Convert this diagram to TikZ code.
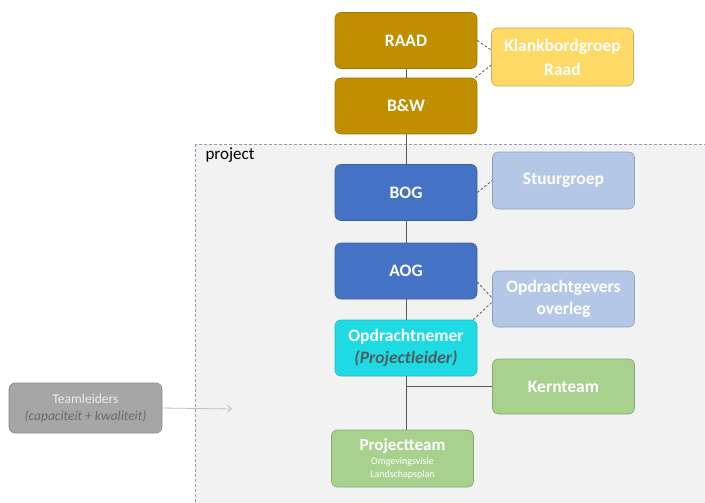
\documentclass[tikz,border=0pt]{standalone}
\usepackage{fontspec}
\setmainfont{Carlito}
\usetikzlibrary{arrows.meta}
\definecolor{raadgold}{HTML}{BF8F00}
\definecolor{klankgeel}{HTML}{FFD966}
\definecolor{bogblauw}{HTML}{4472C4}
\definecolor{lichtblauw}{HTML}{B4C7E7}
\definecolor{nemercyaan}{HTML}{1FDAE3}
\definecolor{teamgroen}{HTML}{A9D18E}
\definecolor{leidergrijs}{HTML}{A6A6A6}
\definecolor{trunkgrijs}{HTML}{595959}
\definecolor{kadergrijs}{HTML}{F2F2F2}
\definecolor{kaderrand}{HTML}{8E9CB8}
\newcommand{\boxfont}{\fontsize{17.5}{22}\selectfont\bfseries}
\begin{document}
\begin{tikzpicture}[x=1pt,y=-1pt,
  box/.style={rounded corners=6pt,minimum width=142pt,minimum height=56pt,inner sep=0pt,
    align=center,text=white,line width=0.6pt,font=\boxfont},
  trunk/.style={draw=trunkgrijs,line width=0.9pt},
  side/.style={draw=trunkgrijs,dash pattern=on 2.5pt off 2pt,line width=0.8pt}]
\path[use as bounding box,fill=white] (0,0) rectangle (705,503);
% project area
\begin{scope}
\clip (0,0) rectangle (705,503);
\draw[kaderrand,fill=kadergrijs,dash pattern=on 3pt off 2pt,line width=0.8pt] (195,144) rectangle (720,520);
\end{scope}
\node[anchor=west,font=\fontsize{17}{19}\selectfont] (projlabel) at (202,155) {project};
% boxes
\node[box,fill=raadgold,draw=raadgold!85!black] (raad) at (406,40.5) {RAAD};
\node[box,fill=raadgold,draw=raadgold!85!black] (bw) at (406,106) {B\&W};
\node[box,fill=klankgeel,draw=klankgeel!80!black,minimum height=58pt,font=\fontsize{17.5}{24}\selectfont\bfseries] (kbg) at (562.5,57) {Klankbordgroep\\Raad};
\node[box,fill=bogblauw,draw=bogblauw!85!black] (bog) at (406,192.5) {BOG};
\node[box,fill=lichtblauw,draw=lichtblauw!80!black,minimum height=57pt] (stuur) at (563.5,180.5) {Stuurgroep};
\node[box,fill=bogblauw,draw=bogblauw!85!black] (aog) at (406,271) {AOG};
\node[box,fill=lichtblauw,draw=lichtblauw!80!black] (ogo) at (563.5,299) {Opdrachtgevers\\overleg};
\node[box,fill=nemercyaan,draw=nemercyaan!85!black] (nemer) at (406,348)
  {Opdrachtnemer\\\color{trunkgrijs!90!teal}\itshape (Projectleider)};
\node[box,fill=teamgroen,draw=teamgroen!80!black,minimum height=55pt] (kern) at (563.5,386.5) {Kernteam};
\node[box,fill=teamgroen,draw=teamgroen!80!black,minimum height=57pt,font=\fontsize{17}{17}\selectfont\bfseries] (pteam) at (402.5,458.5)
  {Projectteam\\[-3pt]\fontsize{10}{13}\selectfont\mdseries Omgevingsvisie\\[-4pt]\fontsize{10}{13}\selectfont\mdseries Landschapsplan};
\node[box,fill=leidergrijs,draw=leidergrijs!85!black,minimum width=153pt,minimum height=50pt,
  font=\fontsize{13.5}{17}\selectfont,text=white!92!black] (teaml) at (85.5,408)
  {Teamleiders\\\fontsize{13.5}{17}\selectfont\color{trunkgrijs!90!white}\itshape (capaciteit + kwaliteit)};
% connectors
\draw[trunk] (raad) -- (bw) -- (bog) -- (aog) -- (nemer);
\draw[trunk] (nemer.south) -- (nemer.south |- pteam.north);
\draw[trunk] (kern.west) -- (kern.west -| nemer.south);
\draw[side] (raad.east) -- ([yshift=7pt]kbg.west);
\draw[side] ([xshift=-2pt]bw.north east) -- ([yshift=-8pt]kbg.west);
\draw[side] (bog.east) -- (stuur.west);
\draw[side] ([yshift=-11pt]aog.east) -- ([yshift=1pt]ogo.west);
\draw[side] ([xshift=-4pt]nemer.north east) -- ([yshift=-3pt]ogo.west);
\coordinate (pijlpunt) at (232,409);
\draw[black!25,line width=0.8pt,-{Straight Barb[length=4pt,width=7pt]}] (teaml.east) -- (pijlpunt);
\end{tikzpicture}
\end{document}
